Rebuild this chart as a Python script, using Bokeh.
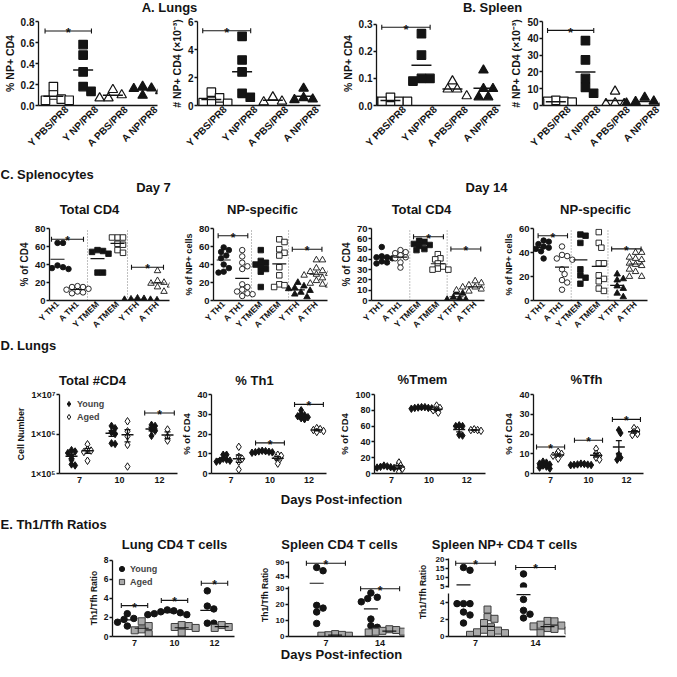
import numpy as np
from math import pi, log10
from bokeh.plotting import figure
from bokeh.layouts import row, column
from bokeh.models import Range1d, FixedTicker, NumeralTickFormatter, Legend, LegendItem
from bokeh.core.properties import value
from bokeh.embed import file_html
from bokeh.resources import INLINE

FONT = "Liberation Sans"
INK = "#141414"
GREY = "#a9a9a9"
EDGE = "#3c3c3c"
M = 8  # page margin (positions below are window pixels)

# ======================= DATA =======================
# A / B : NP-specific CD4 T cells
ab_groups = ["Y PBS/PR8", "Y NP/PR8", "A PBS/PR8", "A NP/PR8"]
lung_pct_np = [[0.18, 0.10, 0.06, 0.05, 0.05],
               [0.58, 0.48, 0.32, 0.18, 0.135],
               [0.15, 0.10, 0.07, 0.07],
               [0.18, 0.165, 0.16, 0.14, 0.095]]
lung_num_np = [[0.95, 0.55, 0.30, 0.20, 0.15],
               [4.94, 3.25, 2.40, 0.87, 0.59],
               [0.60, 0.30, 0.25],
               [1.22, 0.55, 0.45, 0.40]]
spleen_pct_np = [[0.030, 0.015, 0.015, 0.015, 0.015],
                 [0.265, 0.186, 0.100, 0.100, 0.090],
                 [0.090, 0.060, 0.060, 0.035],
                 [0.130, 0.062, 0.062, 0.031, 0.031]]
spleen_num_np = [[3.0, 2.5, 2.5, 2.0, 1.5],
                 [38.6, 27.1, 16.1, 10.8, 7.3],
                 [8.4, 1.4, 1.0, 1.0],
                 [4.8, 2.5, 2.2, 1.4, 1.3]]
lung_pct_sig = [(0, 1, 0.71)]
lung_num_sig = [(0, 1, 5.34)]
spleen_pct_sig = [(0, 1, 0.289)]
spleen_num_sig = [(0, 1, 44.7)]

# C : splenocytes
c_groups = ["Y TH1", "A TH1", "Y TMEM", "A TMEM", "Y TFH", "A TFH"]
c_d7_total = [[64, 64, 39, 37, 36, 35],
              [16, 15, 15, 13, 12, 10, 9, 8],
              [56, 55, 54, 52, 31, 31],
              [70, 70, 70, 63, 62, 56, 53],
              [2.5, 2, 1.5, 1, 1, 0.5],
              [33, 22, 20, 19, 17, 15, 10]]
c_d7_np = [[59, 56, 54, 50, 47, 40, 36, 32, 31],
           [56, 49, 42, 38, 35, 18, 15, 12, 10, 8, 7, 5],
           [56, 44, 42, 40, 38, 35, 32, 15],
           [68, 65, 57, 53, 50, 37, 28, 18, 17, 15],
           [20, 16, 14, 13, 11, 9, 7, 4],
           [45, 45, 36, 33, 32, 30, 29, 28, 25, 22, 19, 18, 17]]
c_d14_total = [[52, 43, 42, 42, 41, 38, 37, 36],
               [49, 47, 46, 44, 42, 41, 37, 32],
               [58, 57, 55, 54, 53, 50, 49],
               [45, 41, 40, 36, 33, 31, 30, 30],
               [8, 7, 3, 2, 1, 1],
               [19, 17, 15, 14, 13, 13, 12, 11, 10, 9]]
c_d14_np = [[50, 49, 47, 45, 44, 43, 41, 35],
            [45, 38, 37, 35, 34, 26, 22, 17, 15, 9],
            [55, 54, 48, 26, 21, 19, 14],
            [57, 48, 44, 31, 31, 21, 18, 16, 10, 8],
            [22, 18, 17, 12, 10, 6, 3],
            [40, 40, 36, 35, 34, 31, 30, 29, 26, 24, 20, 20]]
c_d7_total_sig = [(0, 1, 68), (4, 5, 37)]
c_d7_np_sig = [(0, 1, 72), (4, 5, 57)]
c_d14_total_sig = [(2, 3, 62), (4, 5, 50)]
c_d14_np_sig = [(0, 1, 54), (4, 5, 43)]

# D : lungs, days post-infection
d_days = ["7", "10", "12"]
d_total_young = [[3.9e5, 3.6e5, 3.3e5, 2.7e5, 2.2e5, 1.7e5, 1.6e5],
                 [1.6e6, 1.4e6, 1.1e6, 1.0e6, 5.8e5, 5.6e5],
                 [1.7e6, 1.6e6, 1.3e6, 1.2e6, 9.0e5]]
d_total_aged = [[5.5e5, 4.0e5, 3.8e5, 3.5e5, 2.1e5],
                [2.1e6, 1.17e6, 8.7e5, 5.3e5, 1.5e5],
                [1.3e6, 8.5e5, 6.8e5]]
d_total_sig = [(2, 3.4e6)]
d_th1_young = [[9.5, 9.5, 7.5, 7.0, 6.5, 6.5, 6.0],
               [11.5, 11.3, 11.2, 11.0, 10.8, 10.7, 10.5],
               [32.0, 30.0, 29.5, 29.0, 28.5, 28.0, 27.5]]
d_th1_aged = [[13.5, 8.5, 7.5, 6.0, 2.0],
              [9.5, 9.0, 8.0, 7.0, 5.0],
              [23.0, 22.5, 22.0, 21.5, 21.0]]
d_th1_sig = [(1, 15.5), (2, 35.0)]
d_tmem_young = [[10, 9, 8.5, 8, 7.5, 7, 6.5],
                [84, 84, 83.5, 83, 83, 82.5, 82],
                [61, 60, 60, 49, 48]]
d_tmem_aged = [[14, 10, 9, 6, 2],
               [86, 83, 81, 80, 77],
               [56, 55, 55, 54]]
d_tmem_sig = []
d_tfh_young = [[6, 5.5, 5, 4.5, 4, 3.5, 3, 2.5],
               [5, 4.8, 4.6, 4.5, 4.4, 4.3, 4.2],
               [22, 20.5, 9.5, 8, 7]]
d_tfh_aged = [[11, 10, 9.5, 9, 7.5],
              [12.5, 10, 9, 8, 7],
              [23, 22, 21, 20, 19.5]]
d_tfh_sig = [(0, 13.4), (1, 16.8), (2, 27.4)]

# E : Th1/Tfh ratios
e_lung_days = ["7", "10", "12"]
e_lung_young = [[2.4, 1.9, 1.8, 1.5, 1.1],
                [2.8, 2.7, 2.6, 2.5, 2.4, 2.3, 2.3],
                [4.8, 3.2, 2.9, 1.4, 1.4]]
e_lung_aged = [[1.6, 1.1, 0.75, 0.65, 0.25],
               [1.2, 1.1, 1.0, 0.9, 0.4],
               [1.2, 1.0, 0.9]]
e_lung_sig = [(0, 3.25), (1, 3.8), (2, 5.6)]
e_spl_days = ["7", "14"]
e_spl_young = [[74, 64, 19.3, 17.6, 15.2, 8.1],
               [27, 24.3, 23.5, 21.5, 10.8, 6.7, 5.7]]
e_spl_aged = [[1.5, 1.0, 0.8, 0.5, 0.5],
              [4.5, 4.0, 3.5, 3.0, 3.0, 2.5, 2.5]]
e_spl_sig = [(0, 87.0), (1, 29.6)]
e_np_young = [[15.5, 14.0, 3.9, 3.9, 3.9, 2.9, 2.55, 1.6],
              [12.0, 5.5, 4.4, 3.1, 2.65, 2.2]]
e_np_aged = [[3.2, 2.3, 2.1, 1.6, 1.1, 0.8, 0.7, 0.5, 0.4, 0.3, 0.2],
             [1.85, 1.8, 1.4, 1.3, 1.2, 1.0, 0.9, 0.7, 0.4]]
e_np_sig = [(0, 17.8), (1, 15.5)]


# ======================= HELPERS =======================
def base_fig(box, frame, xr, yr, ytype="linear", show_x=True):
    bx0, bx1, by0, by1 = box
    fx0, fx1, fy0, fy1 = frame
    kw = {}
    if not show_x:
        kw["x_axis_location"] = None
    p = figure(width=bx1 - bx0, height=by1 - by0,
               x_range=Range1d(*xr), y_range=Range1d(*yr), y_axis_type=ytype,
               output_backend="svg", toolbar_location=None,
               min_border_left=fx0 - bx0, min_border_right=bx1 - fx1,
               min_border_top=fy0 - by0, min_border_bottom=by1 - fy1, **kw)
    p.outline_line_color = None
    p.background_fill_color = "white"
    p.border_fill_color = "white"
    for g in p.grid:
        g.visible = False
    fw, fh = fx1 - fx0, fy1 - fy0
    sx = fw / (xr[1] - xr[0])
    if ytype == "log":
        l0, l1 = log10(yr[0]), log10(yr[1])

        def ypx(v):
            return (log10(v) - l0) / (l1 - l0) * fh
    else:
        def ypx(v):
            return (v - yr[0]) / (yr[1] - yr[0]) * fh
    return p, sx, ypx


def style_axes(p, tick_px, yticks, ylabel=None, label_px="9px", ybounds=None, yfmt=None,
               yoverrides=None, xnames=None, xrot=None, xtick_px=None, xshift=0.0):
    for ax in p.axis:
        ax.axis_line_color = INK
        ax.axis_line_width = 1.3
        ax.major_tick_line_color = INK
        ax.major_tick_line_width = 1.3
        ax.minor_tick_line_color = None
        ax.major_label_text_font = FONT
        ax.major_label_text_font_style = "bold"
        ax.major_label_text_color = INK
        ax.axis_label_text_font = FONT
        ax.axis_label_text_font_style = "bold"
        ax.axis_label_text_color = INK
    for ax in p.yaxis:
        ax.ticker = FixedTicker(ticks=yticks)
        ax.major_tick_in = 0
        ax.major_tick_out = 3
        ax.major_label_standoff = 1
        ax.major_label_text_font_size = tick_px
        if ylabel:
            ax.axis_label = ylabel
            ax.axis_label_text_font_size = label_px
            ax.axis_label_standoff = 2
        if ybounds:
            ax.bounds = ybounds
        if yfmt:
            ax.formatter = yfmt
        if yoverrides:
            ax.major_label_overrides = yoverrides
    for ax in p.xaxis:
        ticks = [i + xshift for i in range(len(xnames))]
        ax.ticker = FixedTicker(ticks=ticks)
        ax.major_label_overrides = {t: n for t, n in zip(ticks, xnames)}
        ax.major_tick_in = 0
        ax.major_tick_out = 0
        ax.major_label_standoff = 3
        ax.major_label_text_font_size = xtick_px or tick_px
        if xrot is not None:
            ax.major_label_orientation = xrot
            ax.major_label_standoff = 2


def swarm(center, vals, sx, ypx, d):
    order = sorted(range(len(vals)), key=lambda i: -vals[i])
    steps = [0]
    for k in range(1, 14):
        steps += [k, -k]
    placed = []
    xs = [center] * len(vals)
    for i in order:
        yp = ypx(vals[i])
        xp = 0.0
        for k in steps:
            xp = k * 0.5 * d
            if all((xp - a) ** 2 + (yp - b) ** 2 >= (0.95 * d) ** 2 for a, b in placed):
                break
        placed.append((xp, yp))
        xs[i] = center + xp / sx
    return xs


def points(p, xs, vals, marker, size, fill, line=INK, lw=1.0):
    return p.scatter(xs, vals, marker=marker, size=size, fill_color=fill,
                     line_color=line, line_width=lw)


def mean_line(p, center, m, width, lw=1.5):
    p.scatter([center], [m], marker="dash", size=width, line_color=INK, line_width=lw)


def sem_bars(p, center, vals, width, cap):
    m = float(np.mean(vals))
    s = float(np.std(vals, ddof=1) / np.sqrt(len(vals)))
    p.segment([center], [m - s], [center], [m + s], line_color=INK, line_width=1.3)
    p.scatter([center, center], [m - s, m + s], marker="dash", size=cap,
              line_color=INK, line_width=1.3)
    mean_line(p, center, m, width)


def bracket(p, xa, xb, y, star_px="12px"):
    p.segment([xa], [y], [xb], [y], line_color=INK, line_width=1.1)
    p.scatter([xa, xb], [y, y], marker="dash", angle=pi / 2, size=5,
              line_color=INK, line_width=1.1)
    p.text([(xa + xb) / 2], [y], text=["*"], text_align="center",
           text_baseline="alphabetic", y_offset=2, text_font=value(FONT),
           text_font_style="bold", text_font_size=star_px, text_color=INK)


def add_legend(p, items):
    leg = Legend(items=[LegendItem(label=l, renderers=[r]) for l, r in items],
                 location="top_left", background_fill_alpha=0, border_line_color=None,
                 label_text_font=FONT, label_text_font_style="bold",
                 label_text_font_size="9px", glyph_width=13, glyph_height=13,
                 label_height=11, label_standoff=2, spacing=-2, padding=0, margin=3)
    p.add_layout(leg)


def strip(y0, y1, items, x0=M, x1=677 - M):
    w, h = x1 - x0, y1 - y0
    p = figure(width=w, height=h, x_range=Range1d(0, w), y_range=Range1d(0, h),
               x_axis_type=None, y_axis_type=None, output_backend="svg",
               toolbar_location=None, min_border=0)
    p.outline_line_color = None
    p.background_fill_color = "white"
    p.border_fill_color = "white"
    for x, y, txt, align, size, angle in items:
        p.text([x - x0], [y1 - y], text=[txt], text_align=align, text_baseline="middle",
               angle=angle, text_font=value(FONT), text_font_style="bold",
               text_font_size=size, text_color=INK)
    return p


# ======================= PANELS A / B =======================
AB_STYLE = [("square", "white", 8.5), ("square", INK, 8.5), ("triangle", "white", 9.5), ("triangle", INK, 9.5)]


def ab_panel(box, frame, xr, yr, yticks, ylabel, data, sig, yfmt=None, ybounds=None):
    p, sx, ypx = base_fig(box, frame, xr, yr)
    for i, vals in enumerate(data):
        marker, fill, size = AB_STYLE[i]
        xs = swarm(i, vals, sx, ypx, size)
        points(p, xs, vals, marker, size, fill, lw=1.2)
        mean_line(p, i, float(np.mean(vals)), 20)
    for a, b, y in sig:
        bracket(p, a - 0.28, b + 0.28, y, star_px="13px")
    style_axes(p, "10px", yticks, ylabel, "10.5px", ybounds=ybounds, yfmt=yfmt,
               xnames=ab_groups, xrot=pi / 4, xtick_px="10px", xshift=0.45)
    return p


A1 = ab_panel((8, 175, 24, 168), (37, 165, 28, 113), (-0.5, 3.5), (0, 0.8),
              [0, 0.2, 0.4, 0.6, 0.8], "% NP+ CD4", lung_pct_np, lung_pct_sig,
              yfmt=NumeralTickFormatter(format="0.0"))
A2 = ab_panel((175, 340, 24, 168), (200, 328, 28, 113), (-0.45, 3.55), (0, 6),
              [0, 2, 4, 6], "# NP+ CD4 (×10⁻³)", lung_num_np, lung_num_sig)
B1 = ab_panel((340, 515, 24, 168), (384, 508, 29, 116), (-0.45, 3.55), (0, 0.31),
              [0, 0.1, 0.2, 0.3], "% NP+ CD4", spleen_pct_np, spleen_pct_sig,
              yfmt=NumeralTickFormatter(format="0.0"), ybounds=(0, 0.3))
B2 = ab_panel((515, 669, 24, 168), (545, 667, 28, 113), (-0.45, 3.5), (0, 50),
              [0, 10, 20, 30, 40, 50], "# NP+ CD4 (×10⁻³)", spleen_num_np, spleen_num_sig)

# ======================= PANELS C =======================
C_STYLE = [("circle", INK, 5.5), ("circle", "white", 5.5), ("square", INK, 5.5),
           ("square", "white", 5.5), ("triangle", INK, 6.5), ("triangle", "white", 6.5)]


def c_panel(box, frame, xr, yr, yticks, ylabel, label_px, data, sig):
    p, sx, ypx = base_fig(box, frame, xr, yr)
    top = yticks[-1]
    p.segment([1.5, 3.5], [0, 0], [1.5, 3.5], [top, top], line_color="#808080",
              line_width=1, line_dash="1 2")
    for i, vals in enumerate(data):
        marker, fill, size = C_STYLE[i]
        xs = swarm(i, vals, sx, ypx, size)
        points(p, xs, vals, marker, size, fill, lw=0.9)
        mean_line(p, i, float(np.mean(vals)), 14, lw=1.2)
    for a, b, y in sig:
        bracket(p, a - 0.3, b + 0.3, y)
    style_axes(p, "9.5px", yticks, ylabel, label_px, xnames=c_groups, xrot=pi / 4, xtick_px="8.5px")
    return p


C1 = c_panel((8, 188, 226, 344), (57, 177, 232, 314), (-0.4, 5.6), (0, 80),
             [0, 20, 40, 60, 80], "% of CD4", "10px", c_d7_total, c_d7_total_sig)
C2 = c_panel((188, 345, 226, 344), (214, 335, 232, 314), (-0.55, 5.6), (0, 80),
             [0, 20, 40, 60, 80], "% of NP+ cells", "9px", c_d7_np, c_d7_np_sig)
C3 = c_panel((345, 508, 226, 344), (374, 492, 235, 314), (-0.55, 5.5), (0, 70),
             [0, 10, 20, 30, 40, 50, 60, 70], "% of CD4", "10px", c_d14_total, c_d14_total_sig)
C4 = c_panel((508, 669, 226, 344), (534, 655, 236, 314), (-0.55, 5.65), (0, 60),
             [0, 20, 40, 60], "% of NP+ cells", "9px", c_d14_np, c_d14_np_sig)

# ======================= PANELS D =======================


def d_panel(box, frame, xr, yr, yticks, ylabel, young, aged, sig, ytype="linear",
            overrides=None, legend=False, label_px="9.5px"):
    p, sx, ypx = base_fig(box, frame, xr, yr, ytype=ytype)
    ry = ra = None
    for g in range(len(d_days)):
        xs = swarm(g - 0.2, young[g], sx, ypx, 3.6)
        r1 = points(p, xs, young[g], "diamond", 7.5, INK)
        xs = swarm(g + 0.2, aged[g], sx, ypx, 3.6)
        r2 = points(p, xs, aged[g], "diamond", 7.5, "white")
        sem_bars(p, g - 0.2, young[g], 12, 6)
        sem_bars(p, g + 0.2, aged[g], 12, 6)
        if g == 0:
            ry, ra = r1, r2
    for g, y in sig:
        bracket(p, g - 0.37, g + 0.37, y)
    style_axes(p, "9px", yticks, ylabel, label_px, yoverrides=overrides, xnames=d_days, xtick_px="9px")
    if legend:
        add_legend(p, [("Young", ry), ("Aged", ra)])
    return p


D1 = d_panel((8, 186, 396, 496), (67, 185, 402, 481), (-0.5, 2.45), (1e5, 1e7),
             [100000, 1000000, 10000000], "Cell Number", d_total_young, d_total_aged,
             d_total_sig, ytype="log",
             overrides={100000: "1×10⁵", 1000000: "1×10⁶", 10000000: "1×10⁷"}, legend=True,
             label_px="9px")
D2 = d_panel((186, 344, 396, 496), (212, 334, 402, 481), (-0.5, 2.45), (0, 40),
             [0, 10, 20, 30, 40], "% of CD4", d_th1_young, d_th1_aged, d_th1_sig)
D3 = d_panel((344, 508, 396, 496), (375, 493, 402, 481), (-0.45, 2.5), (0, 100),
             [0, 20, 40, 60, 80, 100], "% of CD4", d_tmem_young, d_tmem_aged, d_tmem_sig)
D4 = d_panel((508, 669, 396, 496), (535, 651, 402, 481), (-0.45, 2.45), (0, 40),
             [0, 10, 20, 30, 40], "% of CD4", d_tfh_young, d_tfh_aged, d_tfh_sig)

# ======================= PANELS E =======================
p, sx, ypx = base_fig((8, 262, 561, 656), (120, 242, 567, 644), (-0.55, 2.5), (0, 8.1))
ry = ra = None
for g in range(len(e_lung_days)):
    xs = swarm(g - 0.18, e_lung_young[g], sx, ypx, 6.5)
    r1 = points(p, xs, e_lung_young[g], "circle", 6.5, INK)
    xs = swarm(g + 0.18, e_lung_aged[g], sx, ypx, 7)
    r2 = points(p, xs, e_lung_aged[g], "square", 7, GREY, line=EDGE)
    mean_line(p, g - 0.18, float(np.mean(e_lung_young[g])), 14, lw=1.2)
    mean_line(p, g + 0.18, float(np.mean(e_lung_aged[g])), 14, lw=1.2)
    if g == 0:
        ry, ra = r1, r2
for g, y in e_lung_sig:
    bracket(p, g - 0.33, g + 0.33, y)
style_axes(p, "8.5px", [0, 2, 4, 6, 8], "Th1/Tfh Ratio", "8.5px", ybounds=(0, 8),
           xnames=e_lung_days, xtick_px="9px")
add_legend(p, [("Young", ry), ("Aged", ra)])
E1 = p


def seg_panel(bx, fx, xr, top_spec, bot_spec, split, young, aged, sig, off, half):
    (tby, tfy, tyr, tticks, tb), (bby, bfy, byr, bticks, bb) = top_spec, bot_spec
    pt, sxt, ypt = base_fig((bx[0], bx[1], tby[0], tby[1]), (fx[0], fx[1], tfy[0], tfy[1]),
                            xr, tyr, show_x=False)
    pb, sxb, ypb = base_fig((bx[0], bx[1], bby[0], bby[1]), (fx[0], fx[1], bfy[0], bfy[1]),
                            xr, byr)

    def comb(v):
        return ypb(v) if v < split else ypt(v) + 1000.0

    for g in range(len(e_spl_days)):
        for vals, dx, marker, fill, line, size in ((young[g], -off, "circle", INK, INK, 6.5),
                                                   (aged[g], off, "square", GREY, EDGE, 7)):
            xs = swarm(g + dx, vals, sxb, comb, size)
            for pp, upper in ((pt, True), (pb, False)):
                sel = [i for i, v in enumerate(vals) if (v >= split) == upper]
                if sel:
                    points(pp, [xs[i] for i in sel], [vals[i] for i in sel], marker, size, fill, line=line)
            m = float(np.mean(vals))
            mean_line(pt if m >= split else pb, g + dx, m, 14, lw=1.2)
    for g, y in sig:
        bracket(pt if y >= split else pb, g - half, g + half, y)
    style_axes(pt, "8px", tticks, ybounds=tb, xnames=e_spl_days, xtick_px="9px")
    style_axes(pb, "8px", bticks, ybounds=bb, xnames=e_spl_days, xtick_px="9px")
    return column(pt, pb)


E2 = seg_panel((280, 418), (294, 412), (-0.69, 1.45),
               ((561, 590), (562, 586), (40.4, 113.4), [45, 90], (41, 91)),
               ((590, 656), (590, 644), (0, 33.47), [0, 10, 20, 30], (0, 31)),
               36, e_spl_young, e_spl_aged, e_spl_sig, 0.17, 0.36)
E3 = seg_panel((440, 669), (456, 573), (-0.45, 1.5),
               ((561, 599), (562, 595), (4.62, 22.55), [5, 10, 15, 20], (4.7, 20.3)),
               ((599, 656), (599, 644), (0, 5.34), [0, 2, 4], (0, 5.05)),
               5.2, e_np_young, e_np_aged, e_np_sig, 0.2, 0.33)
E2_label = strip(561, 656, [(272, 604.6, "Th1/Tfh Ratio", "center", "8.5px", pi / 2)], x0=262, x1=280)
E3_label = strip(561, 656, [(430, 601, "Th1/Tfh Ratio", "center", "8.5px", pi / 2)], x0=418, x1=440)

# ======================= TEXT STRIPS =======================
H1, H2 = "13px", "13px"
S_AB = strip(8, 24, [(177, 15, "A. Lungs", "center", H1, 0), (500, 15, "B. Spleen", "center", H1, 0)])
S_C = strip(168, 226, [(8, 182, "C. Splenocytes", "left", H1, 0),
                       (161, 195, "Day 7", "center", H1, 0),
                       (494, 195, "Day 14", "center", H1, 0),
                       (97, 217, "Total CD4", "center", H2, 0),
                       (270, 217, "NP-specific", "center", H2, 0),
                       (429, 217, "Total CD4", "center", H2, 0),
                       (603, 217, "NP-specific", "center", H2, 0)])
S_D = strip(344, 396, [(8, 353, "D. Lungs", "left", H1, 0),
                       (100, 388, "Total #CD4", "center", H2, 0),
                       (262, 388, "% Th1", "center", H2, 0),
                       (430, 387, "%Tmem", "center", H2, 0),
                       (594, 387, "%Tfh", "center", H2, 0)])
S_E = strip(496, 561, [(349, 507, "Days Post-infection", "center", H2, 0),
                       (8, 532, "E. Th1/Tfh Ratios", "left", H1, 0),
                       (182, 552, "Lung CD4 T cells", "center", H2, 0),
                       (347, 552, "Spleen CD4 T cells", "center", H2, 0),
                       (512, 552, "Spleen NP+ CD4 T cells", "center", H2, 0)])
S_END = strip(656, 669, [(349, 662, "Days Post-infection", "center", H2, 0)])

layout = column(
    S_AB,
    row(A1, A2, B1, B2),
    S_C,
    row(C1, C2, C3, C4),
    S_D,
    row(D1, D2, D3, D4),
    S_E,
    row(E1, E2_label, E2, E3_label, E3),
    S_END,
)

with open("out.html", "w") as f:
    f.write(file_html(layout, INLINE))
